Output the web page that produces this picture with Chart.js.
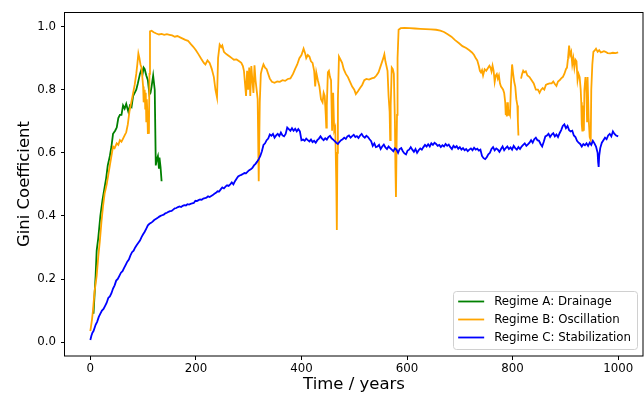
<!DOCTYPE html>
<html>
<head>
<meta charset="utf-8">
<script src="https://cdn.jsdelivr.net/npm/chart.js@4.4.1/dist/chart.umd.min.js"></script>
<style>
  html, body { margin: 0; padding: 0; background: #fff; }
  canvas { display: block; }
</style>
</head>
<body>
<canvas id="giniChart" width="644" height="395"></canvas>
<script>
// Series labels and axis ticks
const seriesLabels = ['Regime A: Drainage', 'Regime B: Oscillation', 'Regime C: Stabilization'];
const xTicks = [0, 200, 400, 600, 800, 1000];
const yTicks = [0.0, 0.2, 0.4, 0.6, 0.8, 1.0];

// [year, gini]
const regimeA = [
  [6, 0.09], [8, 0.15], [10, 0.21], [12, 0.29], [15, 0.33], [19, 0.40], [23, 0.45], [27, 0.49],
  [30, 0.52], [33, 0.56], [37, 0.59], [40, 0.62], [43, 0.66], [47, 0.67], [50, 0.68], [53, 0.71],
  [56, 0.72], [59, 0.72], [62, 0.75], [65, 0.74], [68, 0.755], [72, 0.73], [75, 0.75], [78, 0.745],
  [81, 0.78], [84, 0.79], [87, 0.80], [90, 0.82], [94, 0.85], [97, 0.865], [99, 0.85], [101, 0.87],
  [103, 0.865], [106, 0.845], [109, 0.83], [112, 0.785], [114, 0.79], [116, 0.81], [119, 0.845],
  [122, 0.80], [124, 0.56], [126, 0.58], [128, 0.59], [130, 0.55], [131, 0.585], [133, 0.555], [135, 0.51]
];

const regimeB = [
  [0, 0.035], [3, 0.07], [5, 0.10], [8, 0.16], [12, 0.21], [15, 0.27], [18, 0.32], [21, 0.38],
  [24, 0.43], [27, 0.47], [31, 0.50], [34, 0.53], [37, 0.56], [40, 0.59], [43, 0.62], [46, 0.615],
  [50, 0.63], [53, 0.625], [56, 0.64], [59, 0.635], [62, 0.645], [65, 0.655], [68, 0.665], [71, 0.69],
  [74, 0.73], [77, 0.755], [80, 0.78], [84, 0.815], [87, 0.85], [89, 0.88], [91, 0.915], [93, 0.90],
  [95, 0.88], [97, 0.87], [99, 0.83], [100, 0.81], [101, 0.76], [102, 0.78], [103, 0.80], [104, 0.74],
  [105, 0.79], [106, 0.70], [107, 0.77], [108, 0.73], [109, 0.66], [110, 0.72], [111, 0.66], [112, 0.85],
  [113, 0.985], [116, 0.987], [120, 0.982], [125, 0.978], [130, 0.975], [135, 0.977], [140, 0.974],
  [145, 0.976], [150, 0.974], [155, 0.972], [160, 0.968], [165, 0.970], [170, 0.966], [175, 0.962],
  [180, 0.958], [185, 0.955], [190, 0.945], [195, 0.936], [200, 0.925], [205, 0.912], [210, 0.898],
  [215, 0.885], [218, 0.88], [222, 0.893], [226, 0.885], [230, 0.866], [234, 0.84], [237, 0.80],
  [240, 0.775], [242, 0.90], [245, 0.943], [248, 0.935], [250, 0.94], [253, 0.92], [256, 0.915],
  [260, 0.91], [264, 0.905], [268, 0.90], [272, 0.895], [277, 0.896], [282, 0.89], [286, 0.885],
  [289, 0.875], [291, 0.86], [293, 0.82], [295, 0.78], [297, 0.86], [299, 0.80], [301, 0.87],
  [303, 0.78], [305, 0.875], [307, 0.83], [309, 0.79], [311, 0.877], [313, 0.83], [315, 0.80],
  [317, 0.77], [319, 0.51], [321, 0.76], [323, 0.85], [325, 0.865], [328, 0.88], [331, 0.87],
  [334, 0.865], [337, 0.85], [340, 0.835], [344, 0.825], [349, 0.822], [354, 0.826], [359, 0.825],
  [364, 0.83], [369, 0.828], [374, 0.834], [379, 0.836], [384, 0.85], [388, 0.866], [392, 0.88],
  [396, 0.90], [400, 0.91], [404, 0.93], [407, 0.915], [409, 0.90], [412, 0.91], [415, 0.905],
  [418, 0.89], [421, 0.885], [424, 0.86], [426, 0.81], [428, 0.855], [431, 0.83], [434, 0.81],
  [437, 0.77], [440, 0.76], [442, 0.79], [444, 0.78], [446, 0.72], [447, 0.68], [448, 0.75],
  [450, 0.855], [452, 0.86], [454, 0.84], [456, 0.83], [458, 0.67], [460, 0.79], [462, 0.67],
  [464, 0.68], [466, 0.50], [467, 0.355], [468, 0.60], [469, 0.77], [471, 0.905], [474, 0.895],
  [477, 0.885], [480, 0.865], [484, 0.85], [488, 0.84], [492, 0.825], [496, 0.81], [500, 0.80],
  [503, 0.786], [507, 0.795], [511, 0.805], [515, 0.815], [519, 0.83], [523, 0.834], [528, 0.832],
  [533, 0.836], [538, 0.838], [542, 0.845], [546, 0.855], [549, 0.87], [552, 0.885], [555, 0.90],
  [557, 0.912], [559, 0.89], [561, 0.875], [563, 0.86], [565, 0.78], [567, 0.73], [568, 0.64],
  [569, 0.75], [571, 0.87], [573, 0.865], [575, 0.85], [577, 0.70], [578, 0.55], [579, 0.46],
  [580, 0.60], [581, 0.72], [582, 0.90], [584, 0.99], [588, 0.995], [595, 0.996], [605, 0.995],
  [615, 0.994], [625, 0.993], [635, 0.992], [645, 0.991], [655, 0.990], [663, 0.987], [670, 0.983],
  [677, 0.976], [684, 0.968], [691, 0.957], [698, 0.948], [705, 0.938], [712, 0.932], [718, 0.925],
  [723, 0.918], [727, 0.91], [730, 0.90], [733, 0.893], [736, 0.875], [738, 0.86], [740, 0.855],
  [742, 0.862], [744, 0.845], [747, 0.865], [750, 0.86], [753, 0.868], [756, 0.876], [758, 0.87],
  [760, 0.858], [762, 0.876], [764, 0.86], [766, 0.825], [768, 0.845], [770, 0.85], [772, 0.835],
  [774, 0.845], [776, 0.82], [778, 0.81], [780, 0.805], [782, 0.80], [784, 0.79], [786, 0.76],
  [787, 0.72], [788, 0.73], [789, 0.715], [791, 0.76], [792, 0.72], [793, 0.73], [795, 0.72],
  [797, 0.82], [799, 0.88], [801, 0.85], [803, 0.825], [805, 0.81], [807, 0.77], [809, 0.75],
  [810, 0.70], [811, 0.655], [813, null],
  [816, 0.835], [818, 0.85], [820, 0.86], [822, 0.855], [825, 0.858], [828, 0.845], [832, 0.84],
  [836, 0.83], [840, 0.82], [844, 0.80], [848, 0.80], [851, 0.79], [854, 0.80], [857, 0.805],
  [860, 0.80], [863, 0.815], [866, 0.818], [870, 0.82], [874, 0.82], [877, 0.826], [880, 0.818],
  [883, 0.812], [886, 0.826], [889, 0.83], [892, 0.836], [895, 0.84], [898, 0.85], [901, 0.865],
  [903, 0.87], [905, 0.90], [907, 0.94], [909, 0.91], [911, 0.92], [913, 0.88], [915, 0.90],
  [917, 0.87], [919, 0.895], [921, 0.89], [923, 0.83], [925, 0.85], [927, 0.84], [929, 0.80],
  [930, 0.76], [931, 0.69], [932, 0.67], [933, 0.75], [935, 0.67], [936, 0.80], [938, 0.84],
  [940, 0.79], [941, 0.70], [942, 0.84], [944, 0.71], [946, 0.65], [948, 0.64], [949, 0.80],
  [951, 0.88], [953, 0.92], [956, 0.925], [958, 0.93], [961, 0.92], [964, 0.925], [967, 0.918],
  [970, 0.92], [973, 0.922], [976, 0.92], [980, 0.916], [985, 0.915], [990, 0.917], [995, 0.916],
  [1000, 0.918]
];

const regimeC = [
  [0, 0.007], [2, 0.02], [4, 0.03], [6, 0.035], [8, 0.045], [10, 0.055], [13, 0.065], [16, 0.08],
  [19, 0.09], [22, 0.10], [25, 0.105], [28, 0.115], [31, 0.125], [34, 0.14], [37, 0.145], [40, 0.155],
  [43, 0.17], [46, 0.18], [49, 0.195], [52, 0.20], [55, 0.21], [58, 0.22], [61, 0.225], [64, 0.235],
  [67, 0.245], [70, 0.255], [73, 0.262], [76, 0.275], [79, 0.285], [82, 0.29], [85, 0.30], [88, 0.308],
  [91, 0.315], [94, 0.322], [97, 0.333], [100, 0.342], [103, 0.35], [106, 0.36], [109, 0.37],
  [112, 0.375], [115, 0.378], [118, 0.382], [121, 0.387], [124, 0.39], [127, 0.393], [130, 0.397],
  [133, 0.40], [136, 0.402], [139, 0.404], [142, 0.408], [145, 0.41], [148, 0.413], [151, 0.415],
  [154, 0.416], [157, 0.42], [160, 0.424], [163, 0.425], [166, 0.428], [169, 0.43], [172, 0.428],
  [175, 0.432], [178, 0.434], [181, 0.433], [184, 0.437], [187, 0.436], [190, 0.438], [193, 0.44],
  [196, 0.441], [199, 0.448], [202, 0.447], [205, 0.45], [208, 0.452], [211, 0.451], [214, 0.455],
  [217, 0.456], [220, 0.458], [223, 0.462], [226, 0.46], [229, 0.463], [232, 0.466], [235, 0.47],
  [238, 0.473], [241, 0.478], [244, 0.477], [247, 0.484], [250, 0.49], [253, 0.487], [256, 0.493],
  [259, 0.497], [262, 0.495], [265, 0.50], [268, 0.506], [271, 0.50], [274, 0.51], [277, 0.518],
  [280, 0.525], [283, 0.528], [286, 0.53], [289, 0.533], [292, 0.536], [295, 0.535], [298, 0.54],
  [301, 0.545], [304, 0.548], [307, 0.552], [310, 0.56], [313, 0.565], [316, 0.572], [319, 0.58],
  [322, 0.59], [325, 0.605], [328, 0.625], [331, 0.63], [334, 0.64], [337, 0.645], [340, 0.658],
  [343, 0.654], [346, 0.66], [349, 0.648], [352, 0.655], [355, 0.66], [358, 0.653], [361, 0.664],
  [364, 0.655], [367, 0.652], [370, 0.66], [373, 0.68], [376, 0.675], [379, 0.67], [382, 0.678],
  [385, 0.67], [388, 0.676], [391, 0.668], [394, 0.675], [397, 0.668], [400, 0.64], [403, 0.642],
  [406, 0.638], [409, 0.645], [412, 0.64], [415, 0.636], [418, 0.642], [421, 0.634], [424, 0.638],
  [427, 0.632], [430, 0.64], [433, 0.645], [436, 0.652], [439, 0.645], [442, 0.64], [445, 0.646],
  [448, 0.642], [451, 0.65], [454, 0.654], [457, 0.646], [460, 0.642], [463, 0.637], [466, 0.632],
  [469, 0.628], [472, 0.635], [475, 0.64], [478, 0.643], [481, 0.648], [484, 0.644], [487, 0.652],
  [490, 0.655], [493, 0.648], [496, 0.653], [499, 0.657], [502, 0.65], [505, 0.653], [508, 0.647],
  [511, 0.655], [514, 0.66], [517, 0.652], [520, 0.648], [523, 0.654], [526, 0.65], [529, 0.643],
  [532, 0.637], [535, 0.622], [538, 0.63], [541, 0.618], [544, 0.62], [547, 0.625], [550, 0.612],
  [553, 0.62], [556, 0.626], [559, 0.617], [562, 0.612], [565, 0.62], [568, 0.615], [571, 0.61],
  [574, 0.605], [577, 0.614], [580, 0.61], [583, 0.60], [586, 0.612], [589, 0.615], [592, 0.605],
  [595, 0.598], [598, 0.595], [601, 0.607], [604, 0.61], [607, 0.618], [610, 0.61], [613, 0.603],
  [616, 0.612], [619, 0.60], [622, 0.608], [625, 0.614], [628, 0.61], [631, 0.618], [634, 0.625],
  [637, 0.62], [640, 0.627], [643, 0.62], [646, 0.63], [649, 0.625], [652, 0.632], [655, 0.628],
  [658, 0.622], [661, 0.625], [664, 0.618], [667, 0.624], [670, 0.62], [673, 0.628], [676, 0.622],
  [679, 0.626], [682, 0.618], [685, 0.612], [688, 0.622], [691, 0.617], [694, 0.621], [697, 0.613],
  [700, 0.618], [703, 0.61], [706, 0.615], [709, 0.608], [712, 0.612], [715, 0.605], [718, 0.61],
  [721, 0.614], [724, 0.608], [727, 0.616], [730, 0.61], [733, 0.613], [736, 0.607], [739, 0.61],
  [742, 0.59], [745, 0.583], [748, 0.58], [751, 0.586], [754, 0.595], [757, 0.60], [760, 0.612],
  [763, 0.618], [766, 0.608], [769, 0.614], [772, 0.61], [775, 0.603], [778, 0.612], [781, 0.62],
  [784, 0.608], [787, 0.615], [790, 0.62], [793, 0.612], [796, 0.617], [799, 0.61], [802, 0.622],
  [805, 0.615], [808, 0.61], [811, 0.618], [814, 0.612], [817, 0.62], [820, 0.625], [823, 0.63],
  [826, 0.622], [829, 0.627], [832, 0.632], [835, 0.64], [838, 0.632], [841, 0.643], [844, 0.648],
  [847, 0.64], [850, 0.638], [853, 0.628], [856, 0.62], [859, 0.635], [862, 0.652], [865, 0.655],
  [868, 0.66], [871, 0.65], [874, 0.658], [877, 0.662], [880, 0.652], [883, 0.658], [886, 0.65],
  [889, 0.662], [892, 0.672], [895, 0.685], [898, 0.69], [901, 0.678], [904, 0.685], [907, 0.672],
  [910, 0.668], [913, 0.67], [916, 0.655], [919, 0.65], [922, 0.638], [925, 0.632], [928, 0.628],
  [931, 0.62], [934, 0.628], [937, 0.624], [940, 0.63], [943, 0.622], [946, 0.632], [949, 0.625],
  [952, 0.638], [955, 0.63], [958, 0.62], [961, 0.60], [962, 0.57], [963, 0.555], [964, 0.59],
  [966, 0.615], [969, 0.632], [972, 0.64], [975, 0.648], [978, 0.643], [981, 0.655], [984, 0.66],
  [987, 0.652], [990, 0.668], [993, 0.66], [996, 0.655], [1000, 0.652]
];

const FONT = 'DejaVu Sans';

function toPoints(pairs) {
    return pairs.map(function(p) { return { x: p[0], y: p[1] }; });
}

// box around the plot + legend in the lower right, matplotlib style
const framePlugin = {
    id: 'frame',
    afterDraw: function(chart) {
        const ctx = chart.ctx;
        const a = chart.chartArea;
        ctx.save();
        ctx.strokeStyle = '#000';
        ctx.lineWidth = 1;
        ctx.strokeRect(Math.round(a.left) - 0.5, Math.round(a.top) + 0.5,
            Math.round(a.right - a.left) + 0.5, Math.round(a.bottom - a.top) - 0.5);

        ctx.font = '11.8px "' + FONT + '"';
        let textW = 0;
        chart.data.datasets.forEach(function(ds) {
            textW = Math.max(textW, ctx.measureText(ds.label).width);
        });
        const boxW = 5 + 26 + 10 + textW + 6;
        const boxH = 58;
        const right = a.right - 6;
        const bottom = a.bottom - 7;
        const left = right - boxW;
        const top = bottom - boxH;

        ctx.beginPath();
        ctx.roundRect(Math.round(left) + 0.5, Math.round(top) + 0.5, Math.round(boxW), boxH, 3);
        ctx.fillStyle = 'rgba(255,255,255,0.8)';
        ctx.fill();
        ctx.strokeStyle = '#d0d0d0';
        ctx.stroke();

        ctx.textBaseline = 'middle';
        ctx.textAlign = 'left';
        chart.data.datasets.forEach(function(ds, i) {
            const y = top + 10.5 + i * 18;
            ctx.beginPath();
            ctx.moveTo(left + 5, y);
            ctx.lineTo(left + 31, y);
            ctx.strokeStyle = ds.borderColor;
            ctx.lineWidth = 1.8;
            ctx.stroke();
            ctx.fillStyle = '#000';
            ctx.fillText(ds.label, left + 41, y);
        });
        ctx.restore();
    }
};

const tickFont = { family: FONT, size: 11.8 };
const titleFont = { family: FONT, size: 16.5 };

new Chart(document.getElementById('giniChart').getContext('2d'), {
    type: 'line',
    data: {
        datasets: [{
            label: seriesLabels[0],
            data: toPoints(regimeA),
            borderColor: '#008000',
            order: 3
        }, {
            label: seriesLabels[1],
            data: toPoints(regimeB),
            borderColor: '#ffa500',
            order: 2
        }, {
            label: seriesLabels[2],
            data: toPoints(regimeC),
            borderColor: '#0000ff',
            order: 1
        }]
    },
    options: {
        responsive: false,
        animation: false,
        devicePixelRatio: 1,
        parsing: false,
        spanGaps: false,
        layout: { padding: { top: 9, right: 1, left: 0, bottom: 0 } },
        elements: {
            line: { borderWidth: 1.8, tension: 0, fill: false },
            point: { radius: 0, hoverRadius: 0 }
        },
        plugins: {
            legend: { display: false },
            tooltip: { enabled: false }
        },
        scales: {
            x: {
                type: 'linear',
                min: -48,
                max: 1047,
                afterBuildTicks: function(scale) {
                    scale.ticks = xTicks.map(function(v) { return { value: v }; });
                },
                afterFit: function(scale) { scale.height = 39; },
                ticks: {
                    font: tickFont,
                    color: '#000',
                    padding: 2,
                    maxRotation: 0,
                    autoSkip: false,
                    callback: function(v) { return String(v); }
                },
                grid: { drawOnChartArea: false, drawTicks: true, tickLength: 4, tickColor: '#000', tickWidth: 1 },
                border: { display: false },
                title: { display: true, text: 'Time / years', font: titleFont, color: '#000', padding: { top: 0, bottom: 0 } }
            },
            y: {
                type: 'linear',
                min: -0.044,
                max: 1.046,
                afterBuildTicks: function(scale) {
                    scale.ticks = yTicks.map(function(v) { return { value: v }; });
                },
                afterFit: function(scale) { scale.width = 65; },
                ticks: {
                    font: tickFont,
                    color: '#000',
                    padding: 5,
                    autoSkip: false,
                    callback: function(v) { return Number(v).toFixed(1); }
                },
                grid: { drawOnChartArea: false, drawTicks: true, tickLength: 4, tickColor: '#000', tickWidth: 1 },
                border: { display: false },
                title: { display: true, text: 'Gini Coefficient', font: titleFont, color: '#000', padding: { top: 14.5, bottom: 0 } }
            }
        }
    },
    plugins: [framePlugin]
});
</script>
</body>
</html>
